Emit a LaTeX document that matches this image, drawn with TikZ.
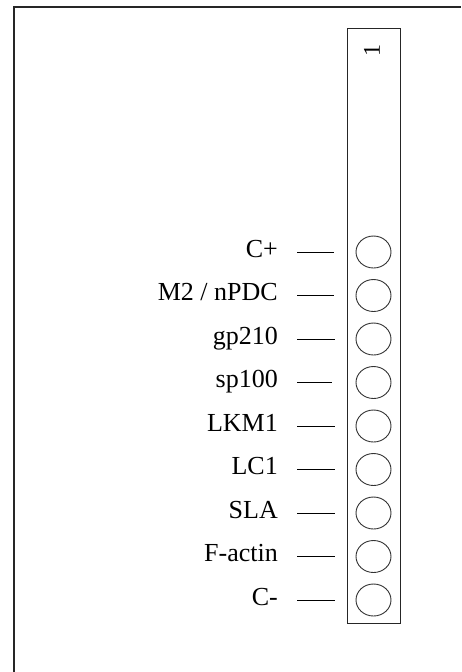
\documentclass[tikz,border=0pt]{standalone}
\usepackage{fontspec}
\setmainfont{Liberation Serif}
\usetikzlibrary{shapes.geometric}
\begin{document}
\begin{tikzpicture}[x=1pt,y=-1pt,
  lbl/.style={anchor=base east,inner sep=0pt,font=\fontsize{26}{30}\selectfont},
  well/.style={draw=black!80,line width=0.9pt,ellipse,minimum width=35pt,minimum height=32pt,inner sep=0pt},
  tick/.style={draw=black,line width=0.9pt},
  frameline/.style={draw=black!85,line width=2pt},
  strip/.style={draw=black!85,line width=1.1pt}]
\useasboundingbox (0,0) rectangle (461,672);
\draw[frameline] (14,672) -- (14,7) -- (461,7);
\node[strip,draw,rectangle,anchor=north west,minimum width=53pt,minimum height=595pt,inner sep=0pt] (s) at (347,28) {};
\node[rotate=90,inner sep=0pt,font=\fontsize{24}{28}\selectfont] (one) at (372,50) {1};
\foreach \i/\t/\e in {0/C+/334,1/{M2 / nPDC}/334,2/gp210/335,3/sp100/332,4/LKM1/335,5/LC1/335,6/SLA/335,7/F-actin/335,8/C-/335}{
  \pgfmathsetmacro{\yy}{252+43.5*\i}
  \node[lbl] (l\i) at (278,\yy+5) {\t};
  \node[well] (w\i) at (373.5,\yy) {};
  \coordinate (a\i) at (297,\yy);
  \coordinate (b\i) at (\e,\yy);
  \draw[tick] (a\i) -- (b\i);
}
\end{tikzpicture}
\end{document}
